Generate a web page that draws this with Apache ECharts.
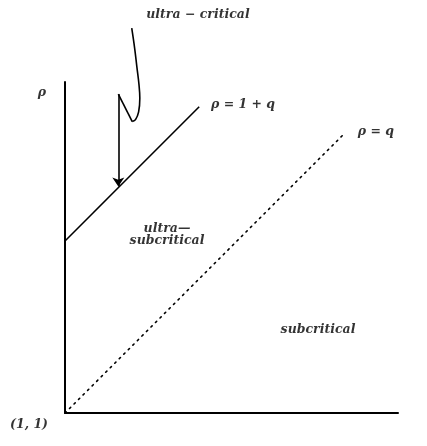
<!DOCTYPE html>
<html>
<head>
<meta charset="utf-8">
<script src="https://cdn.jsdelivr.net/npm/echarts@6/dist/echarts.min.js"></script>
<style>html,body{margin:0;padding:0;background:#fff}#c{width:427px;height:446px}</style>
</head>
<body>
<div id="c"></div>
<script>
// Axis extents (q horizontal, rho vertical), origin at (1,1)
var qRange = [1, 2.936];
var rhoRange = [1, 2.924];
// rho = 1 + q boundary (solid)
var ultraLine = [[1, 2], [1.78, 2.78]];
// rho = q boundary (dotted)
var subLine = [[1, 1], [2.63, 2.63]];
// squiggle curve of the "ultra - critical" pointer
var squiggle = [[1.388, 3.237], [1.405, 3.12], [1.418, 3.01], [1.430, 2.91], [1.435, 2.83], [1.428, 2.75], [1.410, 2.705], [1.391, 2.694]];
// zig up to the top of the arrow
var zig = [[1.391, 2.694], [1.310, 2.853]];
// arrow down to the rho = 1 + q line
var arrowPath = [[1.310, 2.853], [1.310, 2.316]];
// text annotations: [q, rho, text]
var labelsData = [
  [1.773, 3.314, 'ultra \u2212 critical'],
  [2.035, 2.791, '\u03C1 = 1 + q'],
  [2.808, 2.634, '\u03C1 = q'],
  [1.593, 2.072, 'ultra\u2014'],
  [1.593, 2.000, 'subcritical'],
  [2.471, 1.483, 'subcritical'],
  [0.866, 2.860, '\u03C1'],
  [0.791, 0.930, '(1, 1)']
];

var chart = echarts.init(document.getElementById('c'));
var font = {fontFamily: 'DejaVu Serif', fontWeight: 'bold', fontStyle: 'italic', fontSize: 12.5, color: '#000'};
chart.setOption({
  animation: false,
  backgroundColor: '#fff',
  grid: {left: 65, right: 29, top: 82, bottom: 33, containLabel: false},
  xAxis: {type: 'value', min: qRange[0], max: qRange[1], axisLine: {show: true, lineStyle: {color: '#000', width: 2}}, axisTick: {show: false}, axisLabel: {show: false}, splitLine: {show: false}},
  yAxis: {type: 'value', min: rhoRange[0], max: rhoRange[1], axisLine: {show: true, lineStyle: {color: '#000', width: 2}}, axisTick: {show: false}, axisLabel: {show: false}, splitLine: {show: false}},
  series: [
    {type: 'line', data: ultraLine, symbol: 'none', lineStyle: {color: '#000', width: 1.6}},
    {type: 'line', data: subLine, symbol: 'none', lineStyle: {color: '#000', width: 1.6, type: [1.6, 4.8], cap: 'round'}},
    {type: 'line', data: squiggle, symbol: 'none', smooth: 0.4, clip: false, lineStyle: {color: '#000', width: 1.6}},
    {type: 'line', data: zig, symbol: 'none', clip: false, lineStyle: {color: '#000', width: 1.6}},
    {type: 'lines', coordinateSystem: 'cartesian2d', clip: false,
      symbol: ['none', 'arrow'], symbolSize: [5, 9],
      lineStyle: {color: '#000', width: 1.6, opacity: 1, curveness: 0},
      data: [{coords: arrowPath}]},
    {type: 'scatter', symbolSize: 0, clip: false, silent: true,
      data: labelsData.map(function (d) { return {value: [d[0], d[1]], name: d[2]}; }),
      label: Object.assign({show: true, position: 'inside', formatter: function (p) { return p.name; }}, font)}
  ]
});
</script>
</body>
</html>
